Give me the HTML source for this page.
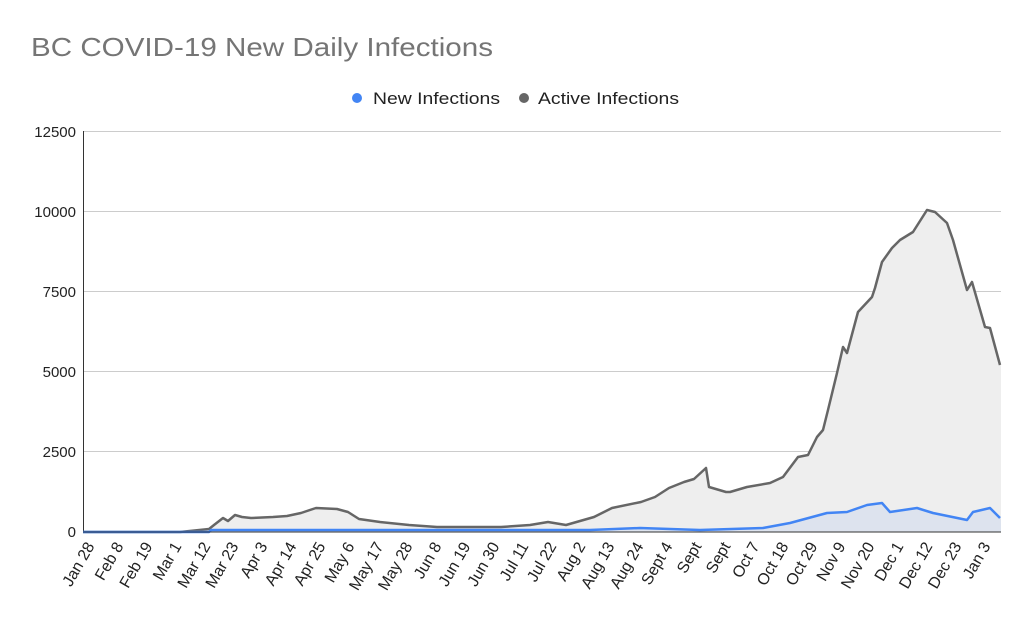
<!DOCTYPE html>
<html><head><meta charset="utf-8"><style>
html,body{margin:0;padding:0;background:#fff;}
svg{display:block;font-family:"Liberation Sans",Arial,sans-serif;}
</style></head><body>
<svg width="1024" height="638" viewBox="0 0 1024 638" xmlns="http://www.w3.org/2000/svg">
<rect width="1024" height="638" fill="#fff"/>
<text x="31" y="56" font-size="26" fill="#757575" textLength="462" lengthAdjust="spacingAndGlyphs">BC COVID-19 New Daily Infections</text>
<circle cx="357" cy="98" r="5" fill="#4285f4"/>
<text x="373" y="104" font-size="17" fill="#222" textLength="127" lengthAdjust="spacingAndGlyphs">New Infections</text>
<circle cx="524" cy="98" r="5" fill="#666"/>
<text x="538" y="104" font-size="17" fill="#222" textLength="141" lengthAdjust="spacingAndGlyphs">Active Infections</text>
<g stroke="#ccc" stroke-width="1">
<line x1="83" y1="131.5" x2="1001" y2="131.5"/>
<line x1="83" y1="211.5" x2="1001" y2="211.5"/>
<line x1="83" y1="291.5" x2="1001" y2="291.5"/>
<line x1="83" y1="371.5" x2="1001" y2="371.5"/>
<line x1="83" y1="451.5" x2="1001" y2="451.5"/>
</g>
<line x1="83.5" y1="131" x2="83.5" y2="532" stroke="#333" stroke-width="1"/>
<g font-size="15" fill="#222" text-anchor="end">
<text x="76" y="137">12500</text>
<text x="76" y="217">10000</text>
<text x="76" y="297">7500</text>
<text x="76" y="377">5000</text>
<text x="76" y="457">2500</text>
<text x="76" y="537">0</text>
</g>
<polygon fill="#eeeeee" points="83,532 180,532 209,529 214,525 223,518 228,521 235,515 242,517 251,518 273,517 287,516 301,513 316,508 337,509 348,512 359,519 380,522 409,525 437,527 501,527 530,525 548,522 566,525 594,517 612,508 641,502 655,497 669,488 684,482 694,479 706,468 709,487 726,492 730,492 747,487 770,483 783,477 798,457 808,455 817,437 823,430 828,410 837,373 843,347 847,353 858,312 872,297 875,288 882,262 892,248 900,240 913,232 927,210 935,212 947,223 953,240 967,290 972,282 985,327 990,328 1000,365 1001,365 1001,532"/>
<polygon fill="#dde3ee" points="83,532 209,532 209,530 590,530 640,528 700,530 763,528 790,523 827,513 847,512 867,505 882,503 890,512 917,508 933,513 967,520 973,512 990,508 1000,518 1001,518 1001,532"/>
<polyline fill="none" stroke="#666" stroke-width="2.5" stroke-linejoin="round" points="83,532 180,532 209,529 214,525 223,518 228,521 235,515 242,517 251,518 273,517 287,516 301,513 316,508 337,509 348,512 359,519 380,522 409,525 437,527 501,527 530,525 548,522 566,525 594,517 612,508 641,502 655,497 669,488 684,482 694,479 706,468 709,487 726,492 730,492 747,487 770,483 783,477 798,457 808,455 817,437 823,430 828,410 837,373 843,347 847,353 858,312 872,297 875,288 882,262 892,248 900,240 913,232 927,210 935,212 947,223 953,240 967,290 972,282 985,327 990,328 1000,365"/>
<polyline fill="none" stroke="#4285f4" stroke-width="2.5" stroke-linejoin="round" points="83,532 209,532 211,530 590,530 640,528 700,530 763,528 790,523 827,513 847,512 867,505 882,503 890,512 917,508 933,513 967,520 973,512 990,508 1000,518"/>
<line x1="83" y1="532" x2="1001" y2="532" stroke="#333" stroke-width="1"/>
<g font-size="16" fill="#222" text-anchor="end">
<text transform="translate(95,546) rotate(-60)">Jan 28</text>
<text transform="translate(124,546) rotate(-60)">Feb 8</text>
<text transform="translate(153,546) rotate(-60)">Feb 19</text>
<text transform="translate(182,546) rotate(-60)">Mar 1</text>
<text transform="translate(211,546) rotate(-60)">Mar 12</text>
<text transform="translate(239,546) rotate(-60)">Mar 23</text>
<text transform="translate(268,546) rotate(-60)">Apr 3</text>
<text transform="translate(297,546) rotate(-60)">Apr 14</text>
<text transform="translate(326,546) rotate(-60)">Apr 25</text>
<text transform="translate(355,546) rotate(-60)">May 6</text>
<text transform="translate(384,546) rotate(-60)">May 17</text>
<text transform="translate(413,546) rotate(-60)">May 28</text>
<text transform="translate(442,546) rotate(-60)">Jun 8</text>
<text transform="translate(471,546) rotate(-60)">Jun 19</text>
<text transform="translate(500,546) rotate(-60)">Jun 30</text>
<text transform="translate(529,546) rotate(-60)">Jul 11</text>
<text transform="translate(557,546) rotate(-60)">Jul 22</text>
<text transform="translate(586,546) rotate(-60)">Aug 2</text>
<text transform="translate(615,546) rotate(-60)">Aug 13</text>
<text transform="translate(644,546) rotate(-60)">Aug 24</text>
<text transform="translate(673,546) rotate(-60)">Sept 4</text>
<text transform="translate(702,546) rotate(-60)">Sept</text>
<text transform="translate(731,546) rotate(-60)">Sept</text>
<text transform="translate(760,546) rotate(-60)">Oct 7</text>
<text transform="translate(789,546) rotate(-60)">Oct 18</text>
<text transform="translate(818,546) rotate(-60)">Oct 29</text>
<text transform="translate(846,546) rotate(-60)">Nov 9</text>
<text transform="translate(875,546) rotate(-60)">Nov 20</text>
<text transform="translate(904,546) rotate(-60)">Dec 1</text>
<text transform="translate(933,546) rotate(-60)">Dec 12</text>
<text transform="translate(962,546) rotate(-60)">Dec 23</text>
<text transform="translate(991,546) rotate(-60)">Jan 3</text>
</g>
</svg>
</body></html>
